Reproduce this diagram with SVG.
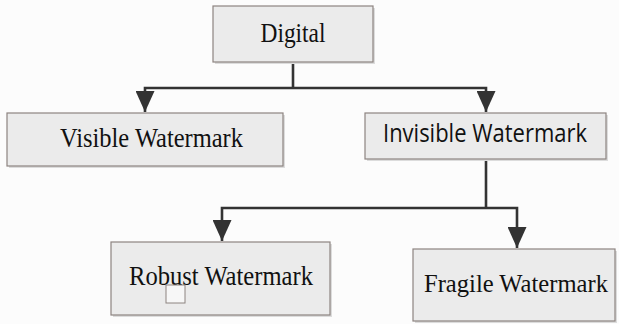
<svg xmlns="http://www.w3.org/2000/svg" width="619" height="324" viewBox="0 0 619 324">
<defs>
<style>
.box{fill:#ebebeb;stroke:#8d8480;stroke-width:1.2}
.sh{fill:#dcdcdc}
.t{font-family:"Liberation Serif","Times New Roman",serif;font-size:28px;fill:#111;text-anchor:middle}
.ts{font-family:"Open Sans","Liberation Sans",sans-serif;font-size:25px;fill:#111;text-anchor:middle}
.c{fill:none;stroke:#333;stroke-width:2.6}
</style>
<marker id="ah" markerUnits="userSpaceOnUse" markerWidth="21" markerHeight="19" viewBox="0 0 21 19" refX="21" refY="9.5" orient="auto">
<path d="M0,0 L21,9.5 L0,19 Z" fill="#333"/>
</marker>
</defs>
<rect width="619" height="324" fill="#fcfcfc"/>
<g id="connectors">
<path class="c" d="M293,62 V88"/>
<path class="c" d="M293,88 H145 V112" marker-end="url(#ah)"/>
<path class="c" d="M293,88 H486 V112" marker-end="url(#ah)"/>
<path class="c" d="M486,159 V208"/>
<path class="c" d="M486,208 H222 V241" marker-end="url(#ah)"/>
<path class="c" d="M486,208 H517 V248" marker-end="url(#ah)"/>
</g>
<g id="digital">
<rect class="sh" x="215" y="8" width="160" height="56"/>
<rect class="box" x="213" y="6" width="160" height="56"/>
<text class="t" x="293" y="42" textLength="65" lengthAdjust="spacingAndGlyphs">Digital</text>
</g>
<g id="visible">
<rect class="sh" x="9" y="115" width="276" height="53"/>
<rect class="box" x="7" y="113" width="276" height="53"/>
<text class="t" x="151.5" y="147" textLength="183" lengthAdjust="spacingAndGlyphs">Visible Watermark</text>
</g>
<g id="invisible">
<rect class="sh" x="367" y="115" width="241" height="46"/>
<rect class="box" x="365" y="113" width="241" height="46"/>
<text class="ts" x="485" y="142" textLength="204" lengthAdjust="spacingAndGlyphs">Invisible Watermark</text>
</g>
<g id="robust">
<rect class="sh" x="113" y="244" width="219" height="73"/>
<rect class="box" x="111" y="242" width="219" height="73"/>
<text class="t" x="221" y="285" textLength="184" lengthAdjust="spacingAndGlyphs">Robust Watermark</text>
<rect x="166" y="285" width="19" height="18" fill="#f7f7f7" stroke="#8d8480" stroke-width="1"/>
</g>
<g id="fragile">
<rect class="sh" x="415" y="251" width="202" height="72"/>
<rect class="box" x="413" y="249" width="202" height="72"/>
<text class="t" x="516" y="292" style="font-size:26px" textLength="184" lengthAdjust="spacingAndGlyphs">Fragile Watermark</text>
</g>
</svg>
